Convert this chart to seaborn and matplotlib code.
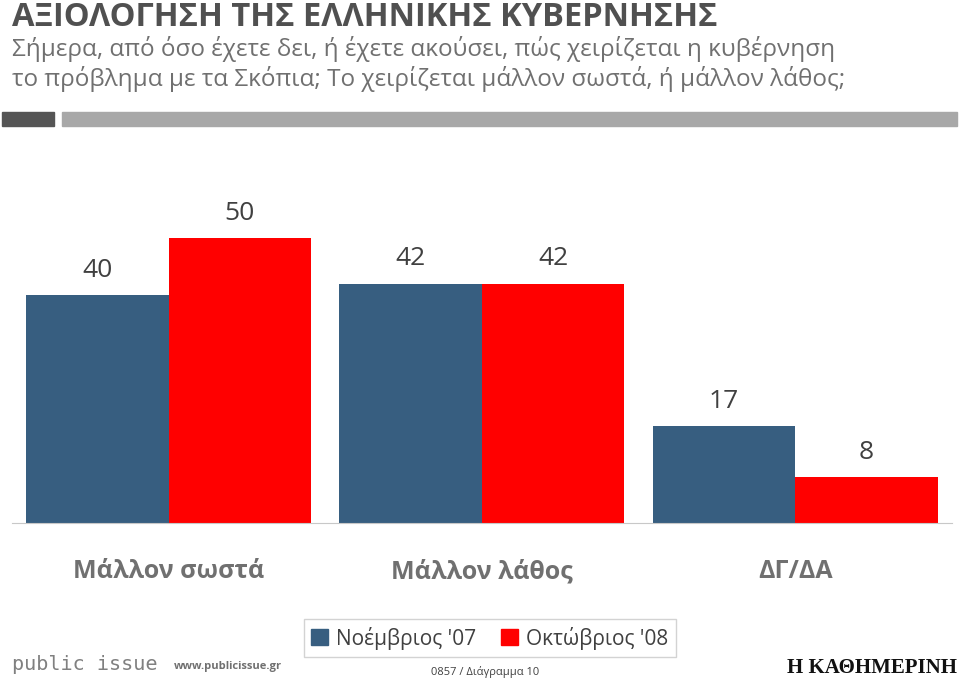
import seaborn as sns
import matplotlib.pyplot as plt
import matplotlib.patches as mpatches
import pandas as pd

sns.set_style("white")
plt.rcParams['font.family'] = ['Open Sans', 'DejaVu Sans']

categories = ['Μάλλον σωστά', 'Μάλλον λάθος', 'ΔΓ/ΔΑ']
series_names = ["Νοέμβριος '07", "Οκτώβριος '08"]
nov07 = [40, 42, 17]
oct08 = [50, 42, 8]
colors = ['#375E80', '#FF0000']

title = 'ΑΞΙΟΛΟΓΗΣΗ ΤΗΣ ΕΛΛΗΝΙΚΗΣ ΚΥΒΕΡΝΗΣΗΣ'
subtitle = ('Σήμερα, από όσο έχετε δει, ή έχετε ακούσει, πώς χειρίζεται η κυβέρνηση\n'
            'το πρόβλημα με τα Σκόπια; Το χειρίζεται μάλλον σωστά, ή μάλλον λάθος;')

df = pd.DataFrame({
    'cat': categories * 2,
    'series': [series_names[0]] * 3 + [series_names[1]] * 3,
    'value': nov07 + oct08,
})

fig = plt.figure(figsize=(9.6, 6.82), dpi=100)
ax = fig.add_axes([0.0125, 0.2331, 0.979, 0.488])

sns.barplot(data=df, x='cat', y='value', hue='series', palette=colors,
            width=0.91, gap=0, saturation=1, linewidth=0, ax=ax, legend=False)

for cont in ax.containers:
    ax.bar_label(cont, fontsize=19, color='#404040', padding=9)

ax.set_ylim(0, 58.4)
ax.set_xlim(-0.5, 2.5)
ax.set_yticks([])
ax.set_xlabel('')
ax.set_ylabel('')
for s in ['top', 'right', 'left']:
    ax.spines[s].set_visible(False)
ax.spines['bottom'].set_color('#C8C8C8')
ax.tick_params(axis='x', which='major', length=0, pad=26,
               labelsize=18, labelcolor='#707070')
for lab in ax.get_xticklabels():
    lab.set_fontweight('bold')
ax.set_xticks([-0.5, 0.5, 1.5, 2.5], minor=True)
ax.tick_params(axis='x', which='minor', length=9, color='#C8C8C8', direction='out')

# header
fig.text(0.0125, 0.998, title, fontsize=23.5, fontweight='bold', color='#505050',
         va='top', ha='left')
fig.text(0.0125, 0.947, subtitle, fontsize=17.5, color='#707070', va='top', ha='left',
         linespacing=1.17)
fig.patches.append(mpatches.Rectangle((2 / 960, 1 - 126 / 682), 52 / 960, 14 / 682,
                                      transform=fig.transFigure, color='#555555'))
fig.patches.append(mpatches.Rectangle((62 / 960, 1 - 126 / 682), 895 / 960, 14 / 682,
                                      transform=fig.transFigure, color='#A8A8A8'))

# legend
handles = [mpatches.Patch(color=c, label=n) for c, n in zip(colors, series_names)]
leg = fig.legend(handles=handles, loc='center', bbox_to_anchor=(0.51, 1 - 638 / 682),
                 ncol=2, frameon=True, fontsize=15, handlelength=0.8, handleheight=0.8,
                 handletextpad=0.4, columnspacing=1.2, borderpad=0.35, fancybox=False)
leg.get_frame().set_edgecolor('#C8C8C8')
for t in leg.get_texts():
    t.set_color('#404040')

# footer
fig.text(0.0125, 1 - 665 / 682, 'public issue', fontsize=14.5, color='#808080',
         family='DejaVu Sans Mono', va='center', ha='left')
fig.text(0.181, 1 - 667 / 682, 'www.publicissue.gr', fontsize=8, fontweight='bold',
         color='#707070', va='center', ha='left')
fig.text(0.505, 1 - 672 / 682, '0857 / Διάγραμμα 10', fontsize=8, color='#404040',
         va='center', ha='center')
fig.text(0.997, 1 - 668 / 682, 'Η ΚΑΘΗΜΕΡΙΝΗ', fontsize=15, fontweight='bold',
         color='#111111', family='Liberation Serif', va='center', ha='right')

fig.savefig('out.png', dpi=100)
